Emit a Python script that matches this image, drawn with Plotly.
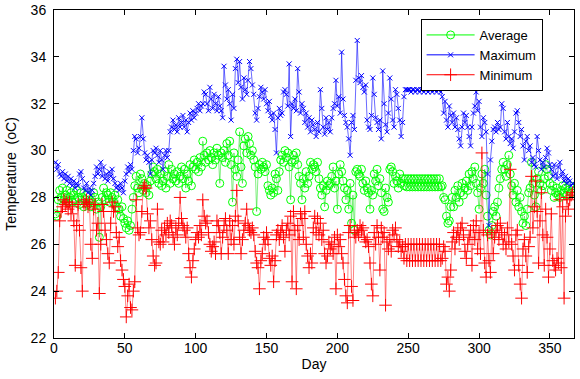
import plotly.graph_objects as go

# ---------------- data ----------------
days = list(range(1, 367))

maximum = [
    29.5, 29.2, 29.4, 29.0, 28.9, 29.1, 28.8, 29.0, 28.7, 28.9,
    28.6, 28.8, 28.5, 28.7, 28.4, 28.6, 28.5, 29.0, 29.1, 28.8,
    28.4, 28.3, 28.6, 28.2, 28.4, 28.1, 28.3, 28.6, 28.9, 29.3,
    29.0, 29.2, 29.5, 28.9, 29.3, 28.8, 29.0, 28.7, 29.1, 28.9,
    29.2, 28.8, 28.6, 28.4, 28.5, 28.3, 28.6, 28.4, 28.2, 28.7,
    29.0, 29.3, 29.1, 29.4, 29.2, 30.0, 30.6, 30.5, 29.9, 30.1,
    30.6, 31.4, 30.5, 29.9, 29.6, 29.8, 29.5, 29.0, 29.6, 30.0,
    29.9, 30.1, 29.8, 29.5, 30.0, 29.6, 29.2, 29.8, 30.0, 29.7,
    30.0, 30.8, 31.0, 31.3, 30.9, 31.1, 30.8, 31.4, 31.0, 31.2,
    31.5, 31.0, 31.3, 30.8, 31.2, 31.6, 31.3, 31.7, 31.4, 31.6,
    31.8, 32.0, 31.7, 31.9, 32.0, 32.5, 32.4, 32.0, 31.7, 32.7,
    32.2, 31.8, 32.4, 32.0, 31.7, 32.3, 31.9, 31.7, 31.4, 33.6,
    32.8, 32.2, 32.6, 32.0, 31.3, 32.4, 31.8, 33.5, 33.9, 32.9,
    33.8, 32.7, 32.2, 33.1, 32.6, 32.4, 33.0, 33.8, 33.5, 32.8,
    32.4, 31.6, 31.3, 31.8, 32.3, 32.7, 32.5, 32.2, 32.6, 32.0,
    31.7, 32.1, 31.5, 31.3, 31.6, 30.9, 29.9, 31.4, 31.8, 31.5,
    31.6, 32.5, 32.6, 32.4, 31.9, 33.7, 30.6, 32.0, 31.8, 32.2,
    31.7, 33.5, 32.5, 31.6, 32.0, 31.8, 31.2, 31.6, 31.0, 31.4,
    30.8, 31.3, 31.1, 30.9, 30.6, 31.2, 30.8, 32.6, 31.8, 31.0,
    30.7, 31.4, 30.9, 31.2, 30.8, 31.4, 31.8, 32.0, 33.0, 31.9,
    32.3, 31.6, 34.2, 32.2, 31.5, 31.2, 31.0, 30.5, 29.8, 31.2,
    31.5, 30.9, 33.0, 34.7, 33.1, 32.9, 33.2, 32.7, 32.5, 32.8,
    31.3, 31.0, 30.9, 31.5, 33.1, 32.4, 31.4, 31.2, 30.9, 31.3,
    30.5, 33.4, 32.0, 31.1, 30.8, 31.6, 33.1, 32.2, 31.3, 31.0,
    32.6, 32.4, 31.8, 31.3, 30.6, 31.2, 32.3, 32.6, 32.6, 32.6,
    32.6, 32.5, 32.6, 32.6, 32.5, 32.6, 32.6, 32.5, 32.6, 32.6,
    32.5, 32.6, 32.6, 32.5, 32.6, 32.6, 32.5, 32.6, 32.6, 32.5,
    32.6, 32.6, 32.5,
    32.3, 31.6, 32.1, 31.3, 31.0, 31.9, 31.5,
    31.2, 31.6, 31.0, 31.4, 30.9, 30.5, 30.2, 31.0, 31.6, 31.2,
    31.5, 31.0, 30.6, 30.2, 31.0, 31.6, 31.9, 32.5, 31.7, 32.1,
    31.0, 30.6, 31.4, 31.2, 30.8, 29.0, 26.8, 29.6, 30.4, 30.9,
    31.0, 30.8, 31.2, 30.9, 31.0, 32.0, 31.8, 30.8, 30.5, 31.2,
    30.6, 30.3, 30.5, 30.1, 30.8, 31.6, 31.7, 31.2, 30.6, 30.9,
    30.2, 29.6, 30.4, 30.6, 30.0, 30.2, 29.5, 29.7, 29.4, 29.3,
    30.6, 30.0, 29.6, 29.2, 29.5, 29.3, 29.7, 30.1, 29.9, 29.4,
    29.2, 28.9, 29.4, 29.0, 28.8, 29.3, 29.5, 28.9, 29.1, 28.7,
    28.9, 28.6, 28.8, 28.7, 28.5, 28.6,
]

average = [
    27.3, 27.2, 27.9, 28.3, 28.0, 28.4, 27.9, 28.1, 28.3, 27.8,
    28.0, 28.2, 27.8, 28.1, 27.9, 28.3, 28.0, 27.7, 28.2, 28.0,
    27.6, 27.9, 28.1, 27.7, 27.9, 27.6, 27.8, 28.2, 28.0, 27.5,
    27.8, 26.3, 27.6, 28.0, 28.4, 27.9, 28.2, 28.1, 27.8, 28.2,
    28.0, 27.8, 28.1, 27.6, 27.9, 27.5, 27.2, 27.6, 27.1, 26.9,
    26.7, 27.0, 26.6, 26.8, 27.5, 28.0, 28.5, 28.9, 28.4, 28.2,
    29.0, 28.8, 28.3, 28.6, 28.2, 28.5, 28.1, 28.7, 29.0, 29.3,
    29.1, 28.8, 29.2, 28.6, 29.0, 28.5, 28.7, 29.1, 28.4, 28.9,
    29.4, 28.6, 29.2, 28.8, 29.0, 28.7, 29.1, 28.6, 28.9, 29.3,
    28.8, 29.2, 28.4, 29.0, 28.7, 29.4, 28.5, 29.3, 29.6, 29.2,
    29.5, 29.1, 29.7, 29.3, 30.4, 29.8, 29.5, 29.9, 29.6, 30.0,
    29.7, 29.4, 29.9, 29.6, 30.1, 29.8, 28.6, 29.9, 29.7, 30.0,
    29.5, 30.3, 29.8, 30.4, 29.4, 27.8, 29.9, 29.2, 28.9, 29.6,
    30.8, 29.3, 28.6, 30.2, 30.5, 29.9, 30.6, 30.3, 29.8, 30.0,
    29.6, 29.3, 27.4, 29.0, 29.4, 29.2, 29.5, 29.3, 29.1, 29.4,
    28.5, 28.3, 28.1, 28.4, 28.2, 29.0, 28.8, 28.3, 29.1, 29.6,
    29.8, 29.5, 30.0, 29.7, 29.9, 29.3, 27.9, 29.5, 29.8, 29.6,
    29.9, 29.4, 28.9, 28.6, 27.9, 28.8, 28.4, 29.1, 28.6, 28.9,
    29.5, 29.2, 29.4, 29.3, 29.1, 29.5, 28.8, 28.4, 28.1, 28.5,
    27.6, 28.3, 28.7, 28.5, 28.6, 28.9, 29.3, 28.4, 28.7, 27.5,
    29.0, 29.4, 29.1, 28.7, 28.4, 27.9, 28.3, 27.5, 28.6, 26.9,
    28.1, 26.6, 29.1, 29.2, 29.0, 28.9, 29.2, 28.6, 28.3, 28.7,
    28.4, 28.2, 27.5, 28.3, 28.1, 29.0, 28.7, 29.2, 28.5, 28.8,
    28.2, 27.5, 27.4, 28.4, 28.0, 27.8, 29.2, 29.3, 29.1, 28.6,
    28.9, 28.7, 28.4, 29.0, 28.6, 28.8, 28.5, 28.8, 28.45, 28.8,
    28.45, 28.8, 28.45, 28.8, 28.45, 28.8, 28.45, 28.8, 28.45, 28.8,
    28.45, 28.8, 28.45, 28.8, 28.45, 28.8, 28.45, 28.8, 28.45, 28.8,
    28.45, 28.8, 28.45,
    28.5, 28.0, 27.9, 27.2, 26.9, 27.0, 27.6,
    28.0, 27.6, 28.3, 28.0, 28.5, 27.8, 28.2, 28.6, 28.1, 28.4,
    28.7, 28.3, 29.0, 28.5, 29.1, 28.8, 29.3, 28.6, 28.2, 27.5,
    28.4, 29.0, 28.6, 29.2, 28.1, 27.2, 26.6, 26.4, 26.8, 27.4,
    27.6, 27.2, 27.8, 28.4, 28.8, 29.2, 29.5, 29.2, 28.9, 29.4,
    29.8, 29.0, 28.5, 28.1, 28.6, 27.8, 28.3, 27.6, 28.0, 27.4,
    26.9, 27.2, 26.8, 27.5, 28.2, 28.4, 29.5, 28.6, 28.1, 27.6,
    28.8, 29.1, 28.6, 28.3, 28.5, 28.8, 29.4, 29.2, 28.9, 28.6,
    28.3, 28.5, 28.0, 28.2, 28.4, 28.1, 28.0, 28.3, 28.5, 28.2,
    28.4, 28.1, 28.3, 28.5, 28.2, 28.4,
]

minimum = [
    23.7, 24.0, 24.8, 27.0, 27.4, 27.6, 27.9, 27.7, 27.8, 27.5,
    27.8, 27.3, 27.6, 27.0, 25.1, 26.8, 27.7, 26.6, 25.0, 24.0,
    27.8, 27.7, 27.9, 27.6, 27.8, 26.0, 25.4, 27.5, 27.7, 26.6,
    26.9, 23.9, 26.0, 27.7, 27.4, 26.6, 26.2, 25.6, 25.2, 26.9,
    27.8, 27.4, 27.6, 26.5, 25.9, 26.3, 25.3, 24.9, 24.5, 24.2,
    22.9, 23.8, 24.3, 23.3, 23.2, 24.0, 24.4, 27.9, 26.7, 26.4,
    26.5, 27.4, 28.4, 28.5, 28.4, 27.3, 26.7, 27.0, 26.2, 25.5,
    25.1, 25.2, 27.5, 26.1, 26.0, 26.6, 26.1, 26.7, 26.4, 26.9,
    26.5, 27.0, 26.8, 26.3, 26.0, 26.7, 26.4, 26.9, 28.0, 27.1,
    26.8, 26.6, 26.3, 26.7, 25.6, 25.0, 24.6, 25.3, 25.8, 26.2,
    26.5, 26.3, 26.8, 26.4, 27.9, 27.2, 26.9, 27.0, 26.5, 26.0,
    25.7, 25.9, 26.1, 25.6, 27.0, 26.8, 26.5, 25.6, 26.3, 26.8,
    27.1, 26.6, 25.6, 27.0, 26.2, 26.8, 26.0, 27.2, 28.3, 27.0,
    26.3, 25.6, 26.2, 26.6, 26.9, 27.5, 26.8, 26.6, 26.5, 26.7,
    26.4, 25.7, 25.2, 25.0, 24.1, 25.3, 25.6, 26.3, 26.0, 26.5,
    26.2, 25.4, 25.1, 25.5, 24.4, 25.3, 26.4, 26.6, 26.2, 26.5,
    26.8, 26.3, 25.7, 26.6, 26.9, 26.4, 27.2, 24.4, 27.4, 26.6,
    24.1, 26.8, 26.2, 27.3, 27.1, 26.3, 27.4, 26.0, 25.5, 25.0,
    25.6, 25.2, 26.7, 27.2, 26.5, 27.1, 26.4, 26.9, 26.2, 26.6,
    25.6, 25.2, 25.5, 26.1, 25.8, 26.0, 25.6, 26.3, 24.1, 26.4,
    25.9, 26.2, 25.6, 25.2, 24.5, 23.8, 23.5, 26.5, 26.8, 24.2,
    23.6, 26.5, 26.3, 26.6, 26.4, 26.8, 26.6, 26.7, 26.3, 26.1,
    26.2, 25.9, 25.2, 24.3, 23.8, 26.5, 26.0, 26.8, 26.3, 24.9,
    26.7, 26.3, 26.5, 23.4, 26.1, 25.8, 26.2, 25.7, 26.6, 26.4,
    26.7, 26.2, 25.9, 26.1, 25.7, 25.9, 25.4, 26.0, 25.3, 26.0,
    25.3, 26.0, 25.3, 26.0, 25.3, 26.0, 25.3, 26.0, 25.3, 26.0,
    25.3, 26.0, 25.3, 26.0, 25.3, 26.0, 25.3, 26.0, 25.3, 26.0,
    25.3, 26.0, 25.3,
    25.4, 25.9, 25.7, 24.3, 24.6, 24.0, 24.9,
    26.1, 26.5, 25.8, 26.3, 26.6, 26.2, 26.7, 26.9, 26.4, 25.7,
    25.4, 26.0, 26.3, 26.6, 25.1, 26.8, 26.2, 27.0, 25.8, 26.5,
    25.6, 29.9, 26.6, 25.2, 24.6, 26.4, 25.3, 24.8, 26.5, 25.6,
    26.3, 26.6, 26.8, 26.2, 26.9, 26.5, 26.0, 26.4, 25.8, 26.7,
    26.1, 29.2, 26.0, 25.5, 24.9, 26.4, 26.6, 25.1, 24.3, 23.7,
    25.8, 26.2, 25.5, 24.8, 25.9, 26.3, 28.9, 26.7, 27.6, 28.7,
    27.4, 25.2, 27.0, 28.2, 26.4, 25.1, 27.5, 26.3, 24.6, 25.8,
    27.3, 25.3, 25.1, 24.9, 25.4, 25.2, 27.9, 25.0, 27.6, 23.7,
    27.2, 28.0, 27.5, 27.9, 28.1, 28.2,
]

x_ticks = [0, 50, 100, 150, 200, 250, 300, 350]
y_ticks = [22, 24, 26, 28, 30, 32, 34, 36]

series = [
    ("Average", average, "rgb(0,255,0)", "rgba(0,220,0,0.55)", "circle-open", 8),
    ("Maximum", maximum, "rgb(0,0,255)", "rgba(0,0,255,0.65)", "x-thin-open", 5),
    ("Minimum", minimum, "rgb(255,0,0)", "rgba(255,0,0,0.55)", "cross-thin-open", 9),
]

font_family = "Liberation Sans, Arial, Helvetica, sans-serif"

fig = go.Figure()
for name, vals, col, linecol, sym, size in series:
    fig.add_trace(go.Scatter(
        x=days, y=vals, mode="lines+markers", name=name, showlegend=False,
        line=dict(color=linecol, width=0.9),
        marker=dict(symbol=sym, size=size, color=col, line=dict(color=col, width=1)),
    ))
# legend entries with full-colour sample lines
for name, vals, col, linecol, sym, size in series:
    fig.add_trace(go.Scatter(
        x=[None], y=[None], mode="lines+markers", name=name, showlegend=True,
        line=dict(color=col, width=1),
        marker=dict(symbol=sym, size=size, color=col, line=dict(color=col, width=1)),
    ))

axis_common = dict(
    showline=True, linecolor="black", linewidth=1, mirror="allticks",
    ticks="inside", ticklen=5, tickcolor="black", showgrid=False, zeroline=False,
    automargin=False, ticklabeloverflow="allow",
    tickfont=dict(family=font_family, size=14, color="black"),
)

fig.update_layout(
    width=580, height=379,
    margin=dict(l=54, r=6, t=10, b=41),
    paper_bgcolor="white", plot_bgcolor="white",
    font=dict(family=font_family, size=14, color="black"),
    xaxis=dict(range=[0, 367], tickvals=x_ticks, ticklabelstandoff=-3,
               title=dict(text="Day", standoff=0, font=dict(size=14)), **axis_common),
    yaxis=dict(range=[22, 36], tickvals=y_ticks, ticklabelstandoff=4,
               title=dict(text="Temperature  (oC)", standoff=10, font=dict(size=14)), **axis_common),
    legend=dict(x=0.705, y=0.9726, xanchor="left", yanchor="top",
                bgcolor="white", bordercolor="black", borderwidth=1,
                font=dict(family=font_family, size=13), itemwidth=48,
                tracegroupgap=0),
)

# remove the default 8px page margin so the figure sits at the window's corner
fig.write_html("out.html", config={"displayModeBar": False},
               post_script="document.body.style.margin='0';")
